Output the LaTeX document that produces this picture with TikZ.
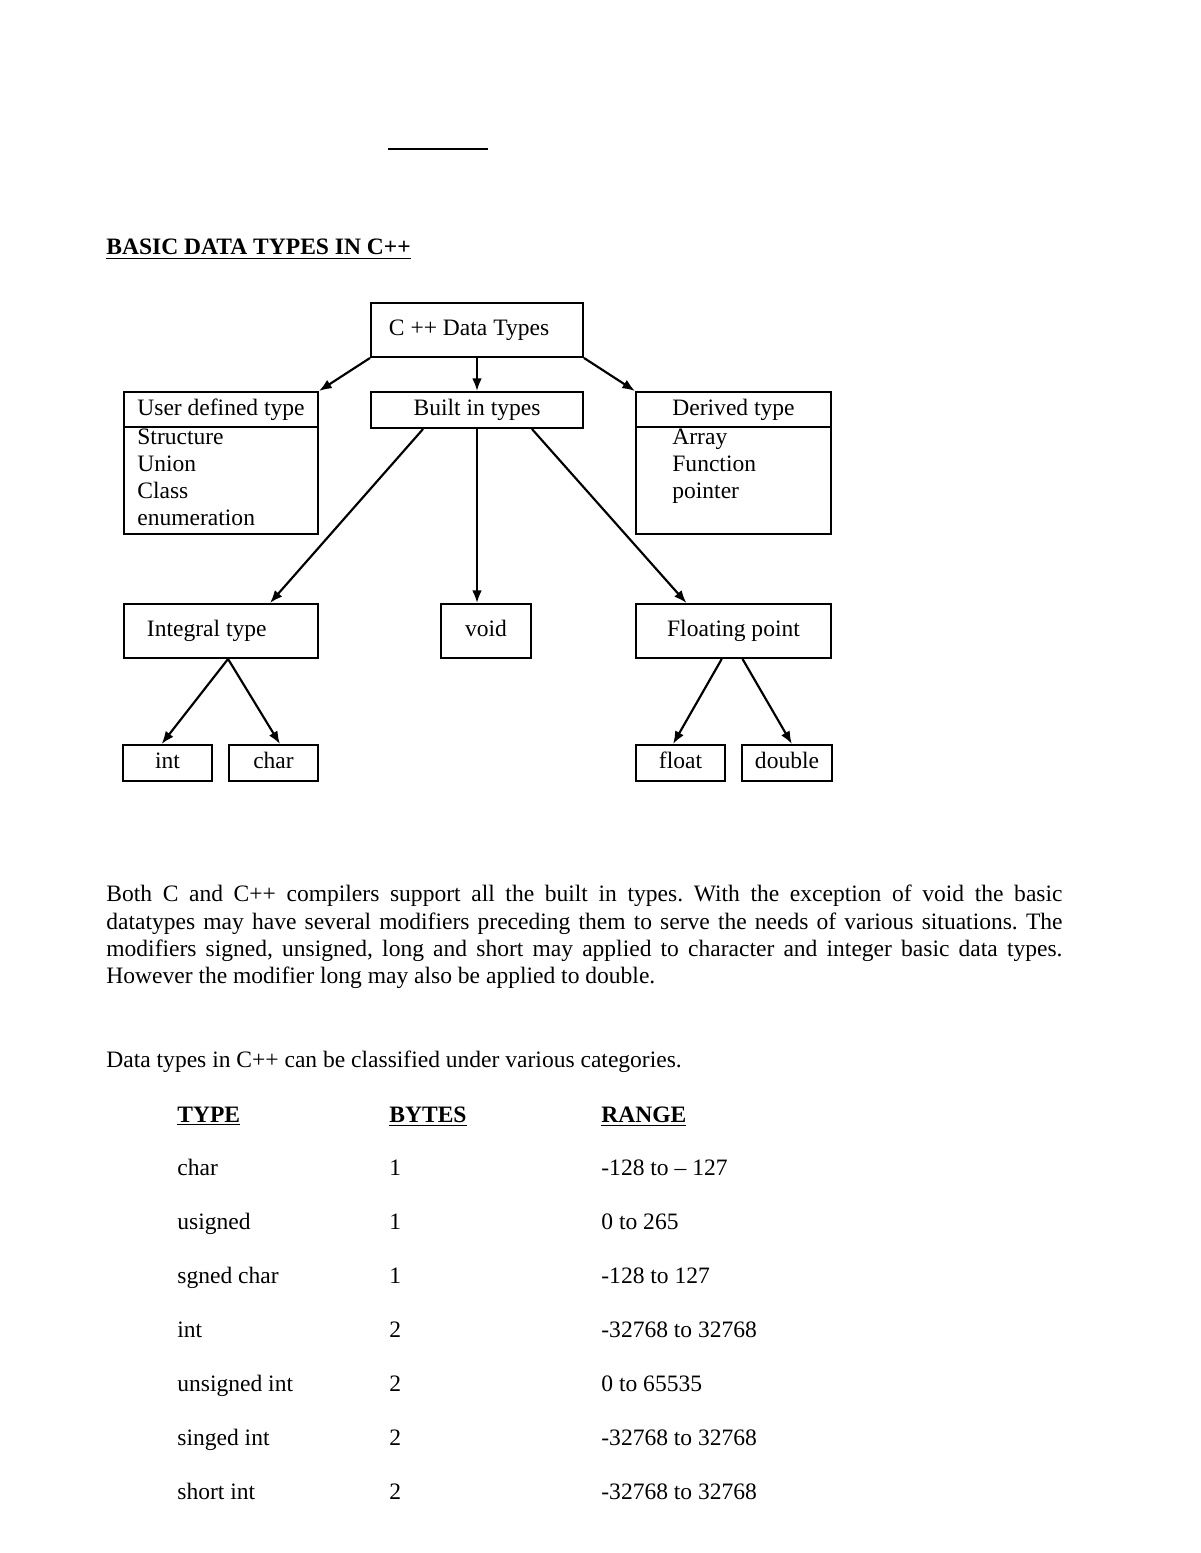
\documentclass[tikz,border=0pt]{standalone}
\usepackage{fontspec}
\setmainfont{Liberation Serif}
\usetikzlibrary{arrows.meta}

\begin{document}
\frenchspacing
\begin{tikzpicture}[x=0.51pt, y=-0.51pt, font=\fontsize{12}{13.8}\selectfont]
	\tikzset{b/.style 2 args={draw, line width=1pt, minimum width=#1*0.51pt, minimum height=#2*0.51pt, inner sep=0pt, text height=8.5pt, text depth=2.5pt},
	h/.style={inner sep=0pt, text height=8.5pt, text depth=2.5pt},
	t/.style={anchor=base west, inner sep=0pt},
	f/.style={->, >={Latex[length=6.5pt, width=5pt]}, line width=1.1pt}};

	\useasboundingbox (0,0) rectangle (1200,1553);

	% heading
	\coordinate (r1) at (388,149);
	\coordinate (r2) at (488,149);
	\draw[line width=1pt] (r1) -- (r2);
	\node[t] (title) at (106,255) {\underline{\textbf{BASIC DATA TYPES IN C++}}};

	% tree
	\node[b={212}{54}, text width=89.8pt, align=flush left] (root) at (477,330) {C ++ Data Types};
	\node[b={194}{142}] (ud) at (221,463) {};
	\node[b={212}{36}] (bi) at (477,410) {Built in types};
	\node[b={195}{142}] (dt) at (733.5,463) {};
	\node[b={194}{54}, text width=75.5pt, align=flush left] (ig) at (221,631) {Integral type};
	\node[b={90}{54}] (vd) at (486,631) {void};
	\node[b={195}{54}] (fp) at (733.5,631) {Floating point};
	\node[b={89}{36}] (int) at (167.5,763) {int};
	\node[b={89}{36}] (chr) at (273.5,763) {char};
	\node[b={89}{36}] (flt) at (680.5,763) {float};
	\node[b={90}{36}] (dbl) at (787,763) {double};

	\draw[line width=1pt] ([yshift=-18.4pt]ud.north west) -- ([yshift=-18.4pt]ud.north east);
	\draw[line width=1pt] ([yshift=-18.4pt]dt.north west) -- ([yshift=-18.4pt]dt.north east);
	\node[h] (udh) at (221,410) {User defined type};
	\node[h] (dth) at (733.5,410) {Derived type};
	\foreach \s [count=\i from 0] in {Structure,Union,Class,enumeration}
		\node[t] (ud\i) at (137,{444+27*\i}) {\s};
	\foreach \s [count=\i from 0] in {Array,Function,pointer}
		\node[t] (dt\i) at (672,{444+27*\i}) {\s};

	\draw[f] (root.south west) -- (ud.north east);
	\draw[f] (root) -- (bi);
	\draw[f] (root.south east) -- (dt.north west);
	\draw[f] ([xshift=-27.5pt]bi.south) -- ([xshift=25pt]ig.north);
	\draw[f] (bi.south) -- (bi.south |- vd.north);
	\draw[f] ([xshift=28pt]bi.south) -- ([xshift=-24pt]fp.north);
	\draw[f] ([xshift=3.6pt]ig.south) -- ([xshift=-3pt]int.north);
	\draw[f] ([xshift=3.6pt]ig.south) -- ([xshift=3.3pt]chr.north);
	\draw[f] ([xshift=-6pt]fp.south) -- ([xshift=-3.8pt]flt.north);
	\draw[f] ([xshift=4.6pt]fp.south) -- ([xshift=2.5pt]dbl.north);

	% text
	\node[anchor=north west, inner sep=0pt, text width=487.6pt, align=justify] (par) at (106,885)
		{Both C and C++ compilers support all the built in types. With the exception of void the basic\linebreak
		datatypes may have several modifiers preceding them to serve the needs of various situations. The\linebreak
		modifiers signed, unsigned, long and short may applied to character and integer basic data types.\linebreak
		However the modifier long may also be applied to double.};
	\node[t] (cat) at (106,1067) {Data types in C++ can be classified under various categories.};

	% table
	\node[t] (hty) at (177,1122) {\underline{\textbf{TYPE}}};
	\node[t] (hby) at (389,1122) {\underline{\textbf{BYTES}}};
	\node[t] (hra) at (601,1122) {\underline{\textbf{RANGE}}};
	\foreach \ty/\by/\ra [count=\i from 0] in {char/1/-128 to – 127, usigned/1/0 to 265, sgned char/1/-128 to 127,
		int/2/-32768 to 32768, unsigned int/2/0 to 65535, singed int/2/-32768 to 32768, short int/2/-32768 to 32768} {
		\node[t] (ty\i) at (177,{1175+54.1*\i}) {\ty};
		\node[t] (by\i) at (389,{1175+54.1*\i}) {\by};
		\node[t] (ra\i) at (601,{1175+54.1*\i}) {\ra};
	}
\end{tikzpicture}
\end{document}
